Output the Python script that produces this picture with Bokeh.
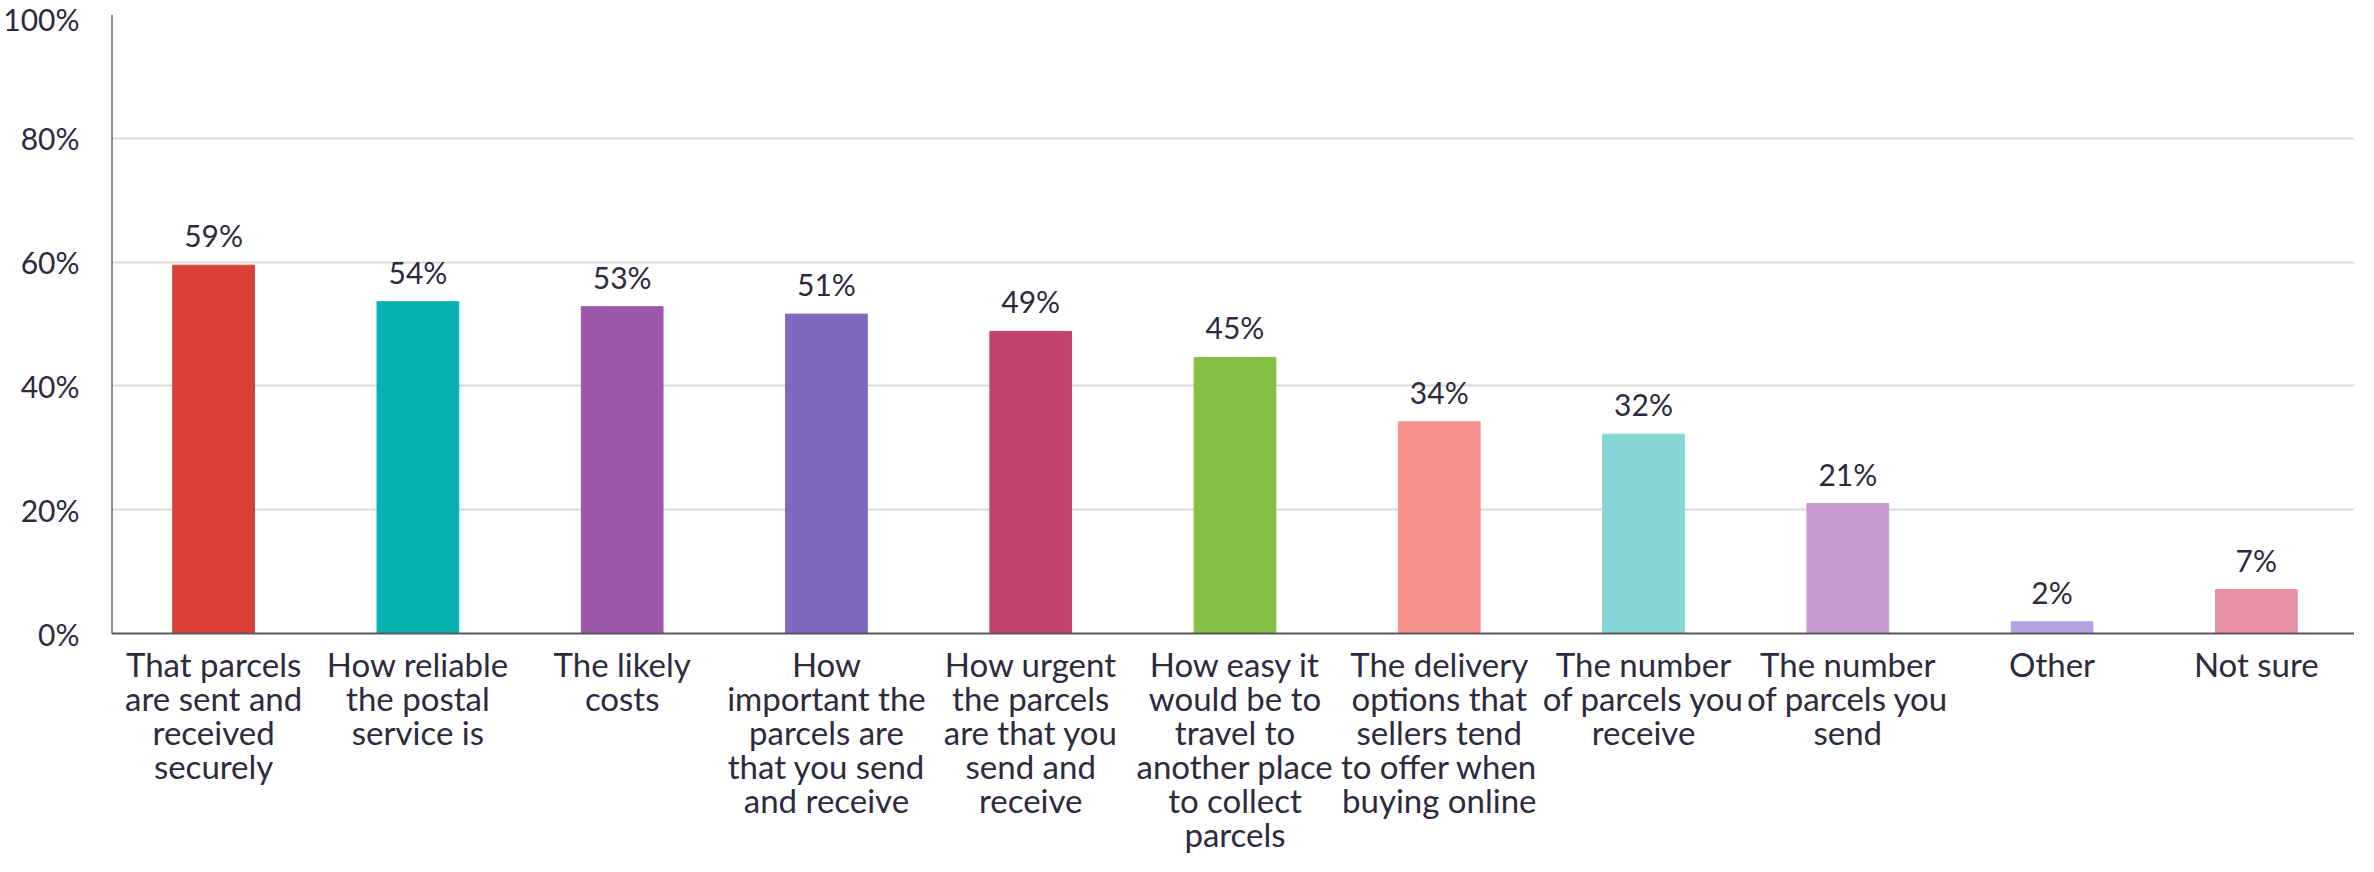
from bokeh.plotting import figure
from bokeh.models import ColumnDataSource, Range1d, FixedTicker, Span
from bokeh.embed import file_html
from bokeh.resources import INLINE
from bokeh.core.properties import value

categories = [
    "That parcels\nare sent and\nreceived\nsecurely",
    "How reliable\nthe postal\nservice is",
    "The likely\ncosts",
    "How\nimportant the\nparcels are\nthat you send\nand receive",
    "How urgent\nthe parcels\nare that you\nsend and\nreceive",
    "How easy it\nwould be to\ntravel to\nanother place\nto collect\nparcels",
    "The delivery\noptions that\nsellers tend\nto offer when\nbuying online",
    "The number\nof parcels you\nreceive",
    "The number\nof parcels you\nsend",
    "Other",
    "Not sure",
]
values = [59.5, 53.6, 52.8, 51.6, 48.8, 44.6, 34.2, 32.2, 21.0, 1.9, 7.1]
value_labels = ["59%", "54%", "53%", "51%", "49%", "45%", "34%", "32%", "21%", "2%", "7%"]
colors = ["#D84038", "#03B1AF", "#9B58AB", "#806ABF", "#C4426E", "#83C142",
          "#F6928B", "#86D6D6", "#C59AD2", "#B3A3E0", "#E68FA5"]
y_ticks = [0, 20, 40, 60, 80, 100]
y_tick_labels = ["0%", "20%", "40%", "60%", "80%", "100%"]

FONT = "Lato"
TEXT_COLOR = "#2E2A3E"

n = len(categories)
xpos = [i + 0.5 for i in range(n)]
src = ColumnDataSource(dict(x=xpos, cat=categories, val=values, lab=value_labels, col=colors,
                            zero=[0] * n))

W, H = 2354, 856
TOP, LEFT = 14, 100
frame_w = W - LEFT
frame_h = H - TOP
px_per_unit = 6.19
below = (frame_h - 100 * px_per_unit) / px_per_unit  # room under the baseline for labels
x_end = n * frame_w / 2258

p = figure(width=W, height=H, x_range=Range1d(0, x_end), y_range=Range1d(-below, 100),
           x_axis_location=None, output_backend="svg", toolbar_location=None,
           min_border_left=LEFT, min_border_right=0, min_border_top=TOP, min_border_bottom=0)
p.outline_line_color = None

p.xgrid.grid_line_color = None
p.ygrid.grid_line_color = "#D9D9D9"
p.ygrid.grid_line_width = 2
p.ygrid.ticker = FixedTicker(ticks=y_ticks[1:])

p.vbar(x="x", top="val", width=0.4, color="col", source=src)
p.text(x="x", y="val", text="lab", source=src, text_align="center", text_baseline="alphabetic",
       y_offset=-30, text_font=value(FONT), text_font_size="30px", text_color=TEXT_COLOR)

# category labels below the baseline
p.text(x="x", y="zero", text="cat", source=src, text_align="center", text_baseline="top",
       y_offset=10, text_font=value(FONT), text_font_size="33px", text_color=TEXT_COLOR,
       text_line_height=0.85)

# axis lines
p.add_layout(Span(location=0, dimension="width", line_color="#595959", line_width=2))
p.segment(x0=[0], y0=[0], x1=[0], y1=[100], line_color="#222222", line_width=2)

p.yaxis.ticker = FixedTicker(ticks=y_ticks)
p.yaxis.major_label_overrides = {t: l for t, l in zip(y_ticks, y_tick_labels)}
p.yaxis.major_tick_line_color = None
p.yaxis.minor_tick_line_color = None
p.yaxis.axis_line_color = None
p.yaxis.major_label_text_font = FONT
p.yaxis.major_label_text_font_size = "30px"
p.yaxis.major_label_text_color = TEXT_COLOR
p.yaxis.major_label_standoff = 26

open("out.html", "w").write(file_html(p, INLINE))
